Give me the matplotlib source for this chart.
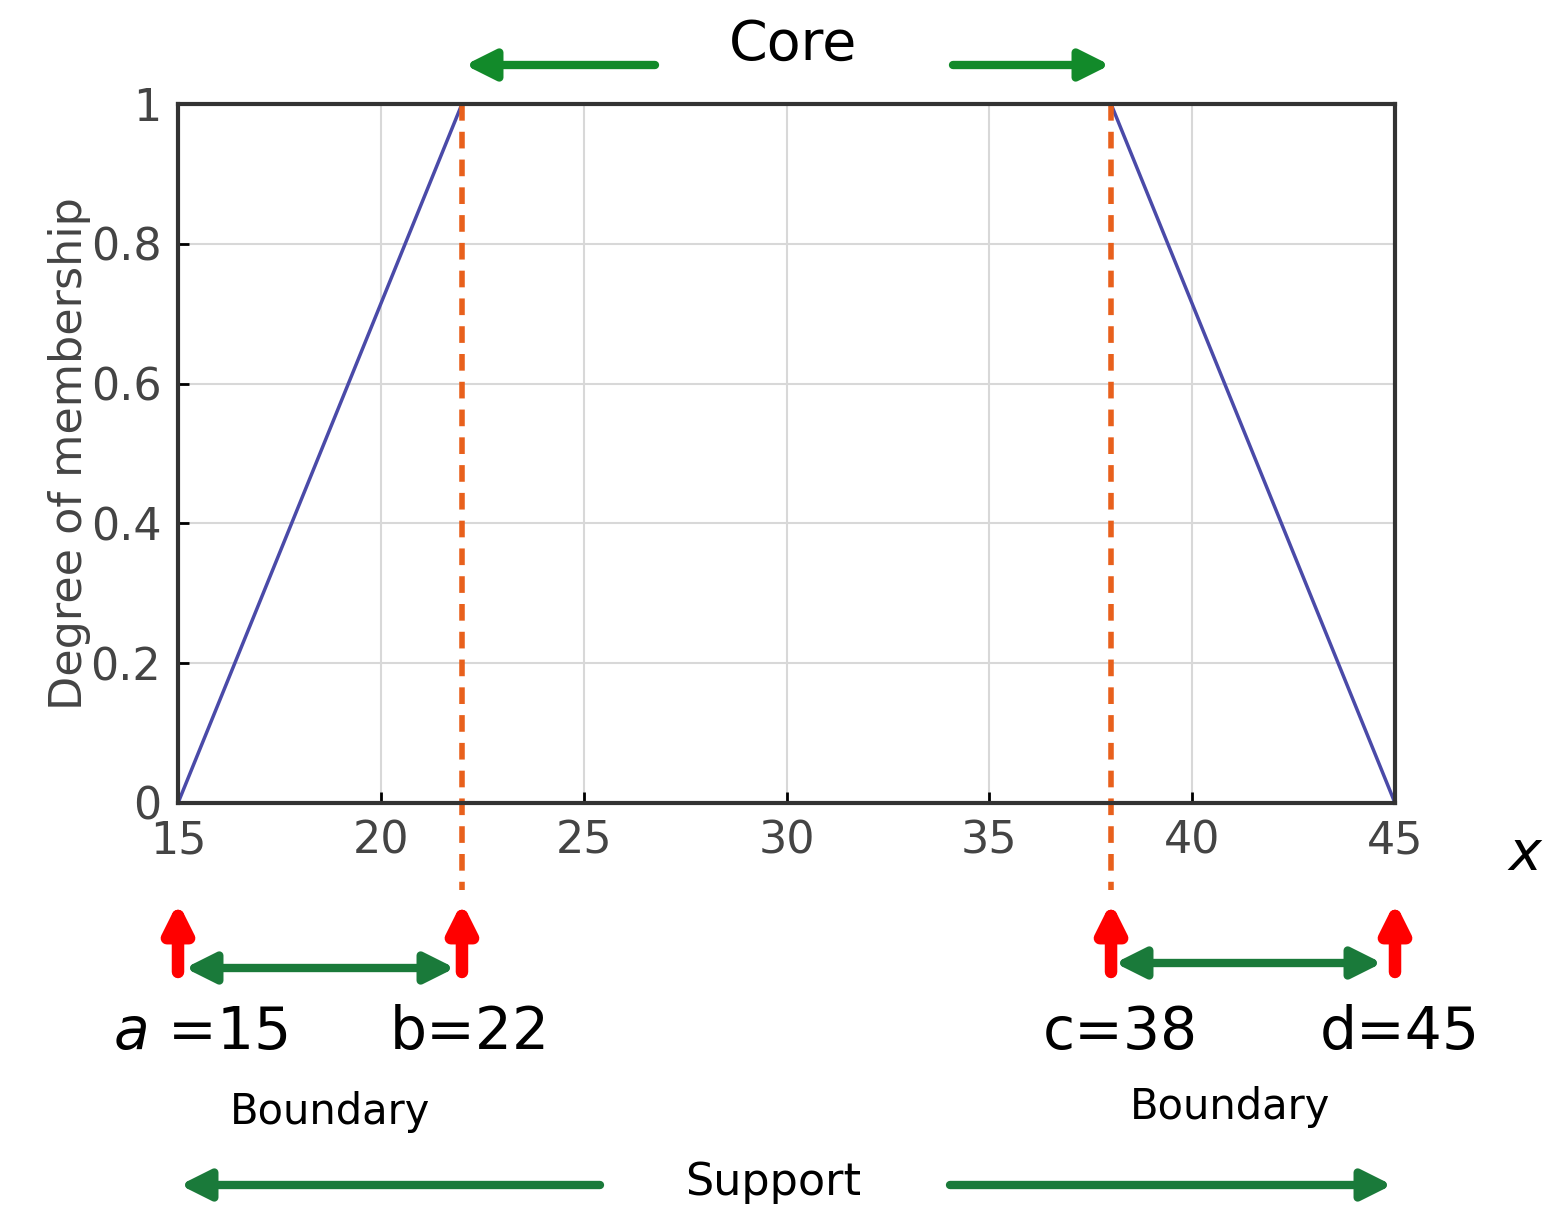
import numpy as np
import matplotlib.pyplot as plt

# trapezoid membership function
mf_x = [15, 22, 38, 45]
mf_y = [0, 1, 1, 0]
x_ticks = [15, 20, 25, 30, 35, 40, 45]
y_ticks = [0, 0.2, 0.4, 0.6, 0.8, 1]
y_tick_labels = ['0', '0.2', '0.4', '0.6', '0.8', '1']
point_labels = ['$a$ =15', 'b=22', 'c=38', 'd=45']

W, H = 1562, 1222
fig = plt.figure(figsize=(W / 100, H / 100), dpi=100)
L, R, T, B = 178, 1395, 104, 803
ax = fig.add_axes([L / W, 1 - B / H, (R - L) / W, (B - T) / H])

def px(xp, yp):
    # pixel position in the picture -> data coords
    return 15 + (xp - L) * 30 / (R - L), (B - yp) / (B - T)

ax.plot(mf_x, mf_y, color='#4a4aa8', lw=2.5)
ax.set_xlim(15, 45)
ax.set_ylim(0, 1)
ax.set_xticks(x_ticks)
ax.set_yticks(y_ticks)
ax.set_yticklabels(y_tick_labels)
ax.grid(True, color='#d8d8d8', lw=1.5)
ax.tick_params(direction='in', length=8, width=2, labelsize=32, labelcolor='#444444', pad=12)
for s in ax.spines.values():
    s.set_linewidth(3)
    s.set_color('#333333')
ax.set_ylabel('Degree of membership', fontsize=32, color='#444444', labelpad=0)

kw = dict(clip_on=False)
# dashed core borders
for xv in [22, 38]:
    y0 = px(0, 890)[1]
    ax.plot([xv, xv], [1, y0], ls=(0, (3, 2)), color='#e8601c', lw=4, **kw)

green = '#128a2a'
dgreen = '#1a7a3a'

def arrow(x1, y1, x2, y2, color, both=False, lw=6, ms=45):
    ax.annotate('', xy=px(x2, y2), xytext=px(x1, y1),
                arrowprops=dict(arrowstyle='<|-|>' if both else '-|>', color=color,
                                lw=lw, mutation_scale=ms, shrinkA=0, shrinkB=0),
                annotation_clip=False)

# core
ax.text(*px(793, 45), 'Core', fontsize=40, ha='center', va='center')
arrow(655, 65, 465, 65, green)
arrow(953, 65, 1110, 65, green)

# red upward arrows
for xv in mf_x:
    xp = L + (xv - 15) * (R - L) / 30
    arrow(xp, 972, xp, 902, '#ff0000', lw=9, ms=40)

# boundary arrows
arrow(185, 968, 455, 968, dgreen, both=True)
arrow(1115, 963, 1382, 963, dgreen, both=True)

for lab, xp in zip(point_labels, [200, 470, 1120, 1400]):
    ax.text(*px(xp, 1032), lab, fontsize=42, ha='center', va='center')
ax.text(*px(330, 1112), 'Boundary', fontsize=30, ha='center', va='center')
ax.text(*px(1230, 1107), 'Boundary', fontsize=30, ha='center', va='center')

ax.text(*px(773, 1183), 'Support', fontsize=32, ha='center', va='center')
arrow(600, 1185, 180, 1185, dgreen)
arrow(950, 1185, 1392, 1185, dgreen)

ax.text(*px(1525, 855), '$x$', fontsize=40, ha='center', va='center')

fig.savefig('out.png', dpi=100)
